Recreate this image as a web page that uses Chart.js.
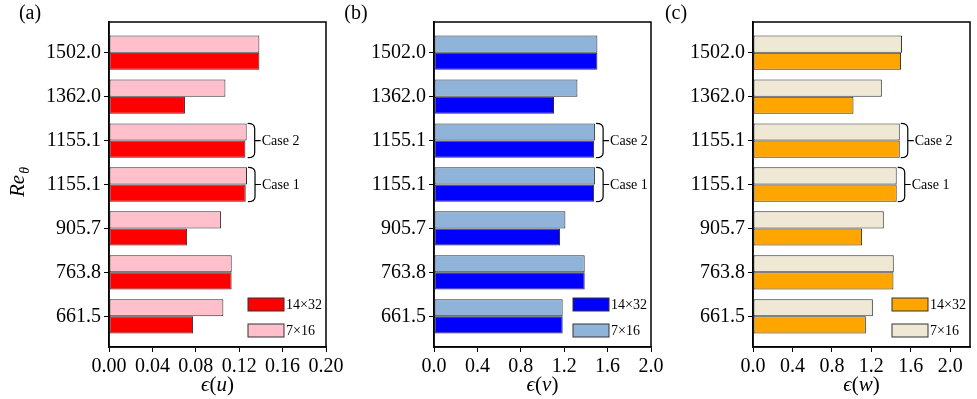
<!DOCTYPE html>
<html>
<head>
<meta charset="utf-8">
<script src="https://cdn.jsdelivr.net/npm/chart.js@4.4.0/dist/chart.umd.min.js"></script>
<style>
    html, body { margin: 0; padding: 0; background: #fff; width: 977px; height: 399px; overflow: hidden; }
    canvas { position: absolute; top: 0; }
</style>
</head>
<body>
<canvas id="chartU" width="350" height="399" style="left:0px"></canvas>
<canvas id="chartV" width="345" height="399" style="left:330px"></canvas>
<canvas id="chartW" width="322" height="399" style="left:655px"></canvas>
<script>
// --- Data (bottom to top) ---
const reLabels = ['661.5', '763.8', '905.7', '1155.1', '1155.1', '1362.0', '1502.0'];
const caseIndex = [3, 4];
const caseNames = ['Case 1', 'Case 2'];
const legendNames = ['14×32', '7×16'];

const uFine   = [0.0775, 0.113, 0.072, 0.126, 0.1257, 0.070, 0.1386];
const uCoarse = [0.1054, 0.1131, 0.1033, 0.1272, 0.1269, 0.1073, 0.1386];
const vFine   = [1.186, 1.389, 1.162, 1.476, 1.476, 1.106, 1.506];
const vCoarse = [1.186, 1.389, 1.211, 1.485, 1.485, 1.322, 1.506];
const wFine   = [1.144, 1.424, 1.106, 1.457, 1.488, 1.019, 1.501];
const wCoarse = [1.215, 1.427, 1.326, 1.457, 1.488, 1.306, 1.511];

const SERIF = "'Liberation Serif', 'Times New Roman', 'DejaVu Serif', serif";

// --- Helpers ---
function toPoints(values) {
    return values.map((v, i) => ({ x: v, y: i }));
}

function drawBrace(ctx, x, top, bottom, label) {
    const w = 7, r = 5, mid = (top + bottom) / 2;
    ctx.save();
    ctx.strokeStyle = '#000';
    ctx.lineWidth = 1.2;
    ctx.beginPath();
    ctx.moveTo(x, top);
    ctx.quadraticCurveTo(x + w, top, x + w, top + r);
    ctx.lineTo(x + w, bottom - r);
    ctx.quadraticCurveTo(x + w, bottom, x, bottom);
    ctx.moveTo(x + w, mid);
    ctx.lineTo(x + w + 6, mid);
    ctx.stroke();
    ctx.fillStyle = '#000';
    ctx.font = '14px ' + SERIF;
    ctx.textAlign = 'left';
    ctx.textBaseline = 'middle';
    ctx.fillText(label, x + w + 7, mid + 1);
    ctx.restore();
}

// draws mixed italic / upright pieces centred at cx
function drawMixed(ctx, parts, cx, baseline, size) {
    let total = 0;
    parts.forEach(p => {
        ctx.font = (p[1] ? 'italic ' : '') + size + 'px ' + SERIF;
        total += ctx.measureText(p[0]).width;
    });
    let x = cx - total / 2;
    parts.forEach(p => {
        ctx.font = (p[1] ? 'italic ' : '') + size + 'px ' + SERIF;
        ctx.fillText(p[0], x, baseline);
        x += ctx.measureText(p[0]).width;
    });
}

function decorPlugin(cfg) {
    return {
        id: 'decor',
        afterDraw(chart) {
            const ctx = chart.ctx;
            const area = chart.chartArea;
            const xs = chart.scales.x, ys = chart.scales.y;
            ctx.save();

            // frame
            ctx.strokeStyle = '#000';
            ctx.lineWidth = 1.5;
            ctx.strokeRect(area.left, area.top, area.right - area.left, area.bottom - area.top);

            // legend
            const boxW = 36, boxH = 13;
            const bx = area.right - 42 - boxW;
            [[cfg.dark, 298], [cfg.light, 324]].forEach((item, k) => {
                ctx.fillStyle = item[0];
                ctx.fillRect(bx, item[1], boxW, boxH);
                ctx.strokeStyle = '#333';
                ctx.lineWidth = 1;
                ctx.strokeRect(bx, item[1], boxW, boxH);
                ctx.fillStyle = '#000';
                ctx.font = '14px ' + SERIF;
                ctx.textAlign = 'left';
                ctx.textBaseline = 'middle';
                ctx.fillText(legendNames[k], bx + boxW + 2, item[1] + boxH / 2 + 1);
            });

            // braces
            const step = Math.abs(ys.getPixelForValue(1) - ys.getPixelForValue(0));
            caseIndex.forEach((idx, k) => {
                const end = Math.max(cfg.fine[idx], cfg.coarse[idx]);
                const x = xs.getPixelForValue(end) + 1;
                const c = ys.getPixelForValue(idx);
                drawBrace(ctx, x, c - step * 0.39, c + step * 0.39, caseNames[k]);
            });

            // x title
            ctx.fillStyle = '#000';
            ctx.textAlign = 'left';
            ctx.textBaseline = 'alphabetic';
            drawMixed(ctx, [['ϵ', true], ['(', false], [cfg.comp, true], [')', false]],
                (area.left + area.right) / 2, 391, 21);

            // panel label
            ctx.font = '20px ' + SERIF;
            ctx.textAlign = 'center';
            ctx.textBaseline = 'middle';
            ctx.fillText(cfg.panel, cfg.panelX, 14);

            // y title
            if (cfg.yTitle) {
                ctx.translate(24, 197);
                ctx.rotate(-Math.PI / 2);
                ctx.textAlign = 'left';
                ctx.textBaseline = 'alphabetic';
                ctx.font = 'italic 21px ' + SERIF;
                ctx.fillText('Re', 0, 0);
                const w = ctx.measureText('Re').width;
                ctx.font = 'italic 14px ' + SERIF;
                ctx.fillText('θ', w + 1, 5);
            }
            ctx.restore();
        }
    };
}

function makeChart(id, cfg) {
    return new Chart(document.getElementById(id), {
        type: 'bar',
        data: {
            datasets: [{
                label: legendNames[1],
                data: toPoints(cfg.coarse),
                backgroundColor: cfg.light,
                borderColor: '#2b2b2b',
                borderWidth: 1,
                borderSkipped: false,
                categoryPercentage: 0.78,
                barPercentage: 1.0
            }, {
                label: legendNames[0],
                data: toPoints(cfg.fine),
                backgroundColor: cfg.dark,
                borderColor: '#2b2b2b',
                borderWidth: 1,
                borderSkipped: false,
                categoryPercentage: 0.78,
                barPercentage: 1.0
            }]
        },
        options: {
            indexAxis: 'y',
            responsive: false,
            animation: false,
            layout: { padding: { top: 22, right: cfg.padRight, left: 0, bottom: 0 } },
            scales: {
                x: {
                    type: 'linear',
                    min: 0,
                    max: cfg.xMax,
                    ticks: {
                        stepSize: cfg.step,
                        includeBounds: false,
                        autoSkip: false,
                        maxRotation: 0,
                        padding: 3,
                        color: '#000',
                        font: { family: SERIF, size: 20 },
                        callback: v => Number(v).toFixed(cfg.digits)
                    },
                    grid: { display: true, drawOnChartArea: false, drawTicks: true, tickLength: 5, color: '#000' },
                    border: { display: true, color: '#000', width: 1.5 },
                    afterFit: s => { s.height = 52; s.paddingLeft = 0; s.paddingRight = 0; }
                },
                y: {
                    type: 'linear',
                    offset: false,
                    min: -0.7,
                    max: 6.7,
                    afterBuildTicks: s => { s.ticks = reLabels.map((_, i) => ({ value: i })); },
                    ticks: {
                        autoSkip: false,
                        padding: 3,
                        color: '#000',
                        font: { family: SERIF, size: 20 },
                        callback: v => reLabels[v]
                    },
                    grid: { display: true, offset: false, drawOnChartArea: false, drawTicks: true, tickLength: 5, color: '#000' },
                    border: { display: true, color: '#000', width: 1.5 },
                    afterFit: s => { s.width = cfg.yWidth; s.paddingTop = 0; s.paddingBottom = 0; }
                }
            },
            plugins: {
                legend: { display: false },
                tooltip: { enabled: false }
            }
        },
        plugins: [decorPlugin(cfg)]
    });
}

// --- Build the three panels ---
makeChart('chartU', {
    fine: uFine, coarse: uCoarse, dark: '#ff0000', light: '#ffc0cb',
    xMax: 0.2, step: 0.04, digits: 2, comp: 'u',
    yWidth: 109, padRight: 24, panel: '(a)', panelX: 30, yTitle: true
});
makeChart('chartV', {
    fine: vFine, coarse: vCoarse, dark: '#0000ff', light: '#8fb3d9',
    xMax: 2.0, step: 0.4, digits: 1, comp: 'v',
    yWidth: 104, padRight: 24, panel: '(b)', panelX: 26, yTitle: false
});
makeChart('chartW', {
    fine: wFine, coarse: wCoarse, dark: '#ffa500', light: '#eee8d5',
    xMax: 2.2, step: 0.4, digits: 1, comp: 'w',
    yWidth: 98, padRight: 7, panel: '(c)', panelX: 21, yTitle: false
});
</script>
</body>
</html>
